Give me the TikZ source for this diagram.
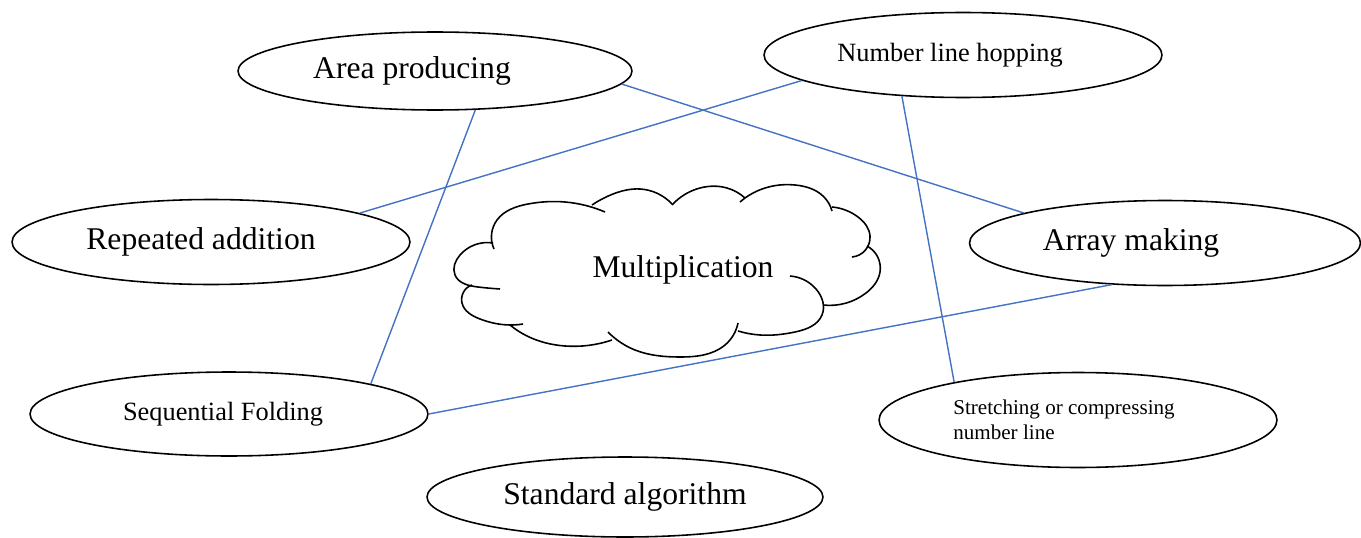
\documentclass[tikz,border=0pt]{standalone}
\usepackage{fontspec}
\setmainfont{Liberation Serif}
\usepackage{tikz}
\usetikzlibrary{shapes.geometric,hobby}
\definecolor{linkblue}{HTML}{4472C4}

\begin{document}
\begin{tikzpicture}[x=0.02cm,y=-0.02cm,
	idea/.style={draw,ellipse,line width=.9pt,inner sep=0pt,minimum width=7.96cm,minimum height=1.7cm},
	puff/.style={line width=.9pt,use Hobby shortcut},
	big/.style={font=\fontsize{18}{21}\selectfont},
	mid/.style={font=\fontsize{15}{18}\selectfont},
	small/.style={font=\fontsize{12}{14.2}\selectfont},
	link/.style={linkblue,line width=.8pt}]
	 \useasboundingbox(0,0)rectangle(1361,537);
	 % cloud, one puff at a time (pixel units, y down)
	 \draw[puff](494,249)..(497,220)..(528,204)..(565,202)..(605,212);
	 \draw[puff](592,205)..(613,194)..(640,189)..(672,204);
	 \draw[puff](672,205)..(700,188)..(727,188)..(745,198);
	 \draw[puff](740,202)..(765,188)..(795,185)..(823,196)..(832,211);
	 \draw[puff](832,207)..(858,217)..(870,236)..(852,257);
	 \draw[puff](867,246)..(880,272)..(866,293)..(823,305);
	 \draw[puff](790,276)..(816,289)..(822,315)..(795,332)..(760,335)..(738,331);
	 \draw[puff](738,323)..(725,345)..(680,357)..(635,350)..(608,332);
	 \draw[puff](612,340)..(565,346)..(527,336)..(510,325);
	 \draw[puff](472,285)..(462,303)..(480,319)..(510,325)..(523,324);
	 \draw[puff](493,243)..(460,255)..(455,275)..(478,287)..(500,289);
	 \node[big](mult)at(683,270){Multiplication};
	 % the ways round it
	 \node[idea,big,minimum width=7.88cm,minimum height=1.56cm](area)at(435,71){Area producing\hspace*{.92cm}};
	 \node[idea,mid](hop)at(963,55){Number line hopping\hspace*{.52cm}};
	 \node[idea,big](rep)at(211,242){Repeated addition\hspace*{.4cm}};
	 \node[idea,big,minimum width=7.82cm](array)at(1165,243){Array making\hspace*{1.36cm}};
	 \node[idea,mid,minimum height=1.68cm](fold)at(229,414){Sequential Folding\hspace*{.24cm}};
	 \node[idea,small,align=left,minimum height=1.9cm](stretch)at(1078,420){Stretching or compressing\hspace*{.56cm}\\number line};
	 \node[idea,big,minimum width=7.92cm,minimum height=1.6cm](alg)at(625,497){Standard algorithm};
	 % links
	 \draw[link](area.-4)--(array.168);
	 \draw[link](area.-44)--(fold.12);
	 \draw[link](hop.-171)--(rep.11.5);
	 \draw[link](hop.-146)--(stretch.163);
	 \draw[link](array.-142)--(fold.0);
\end{tikzpicture}
\end{document}
